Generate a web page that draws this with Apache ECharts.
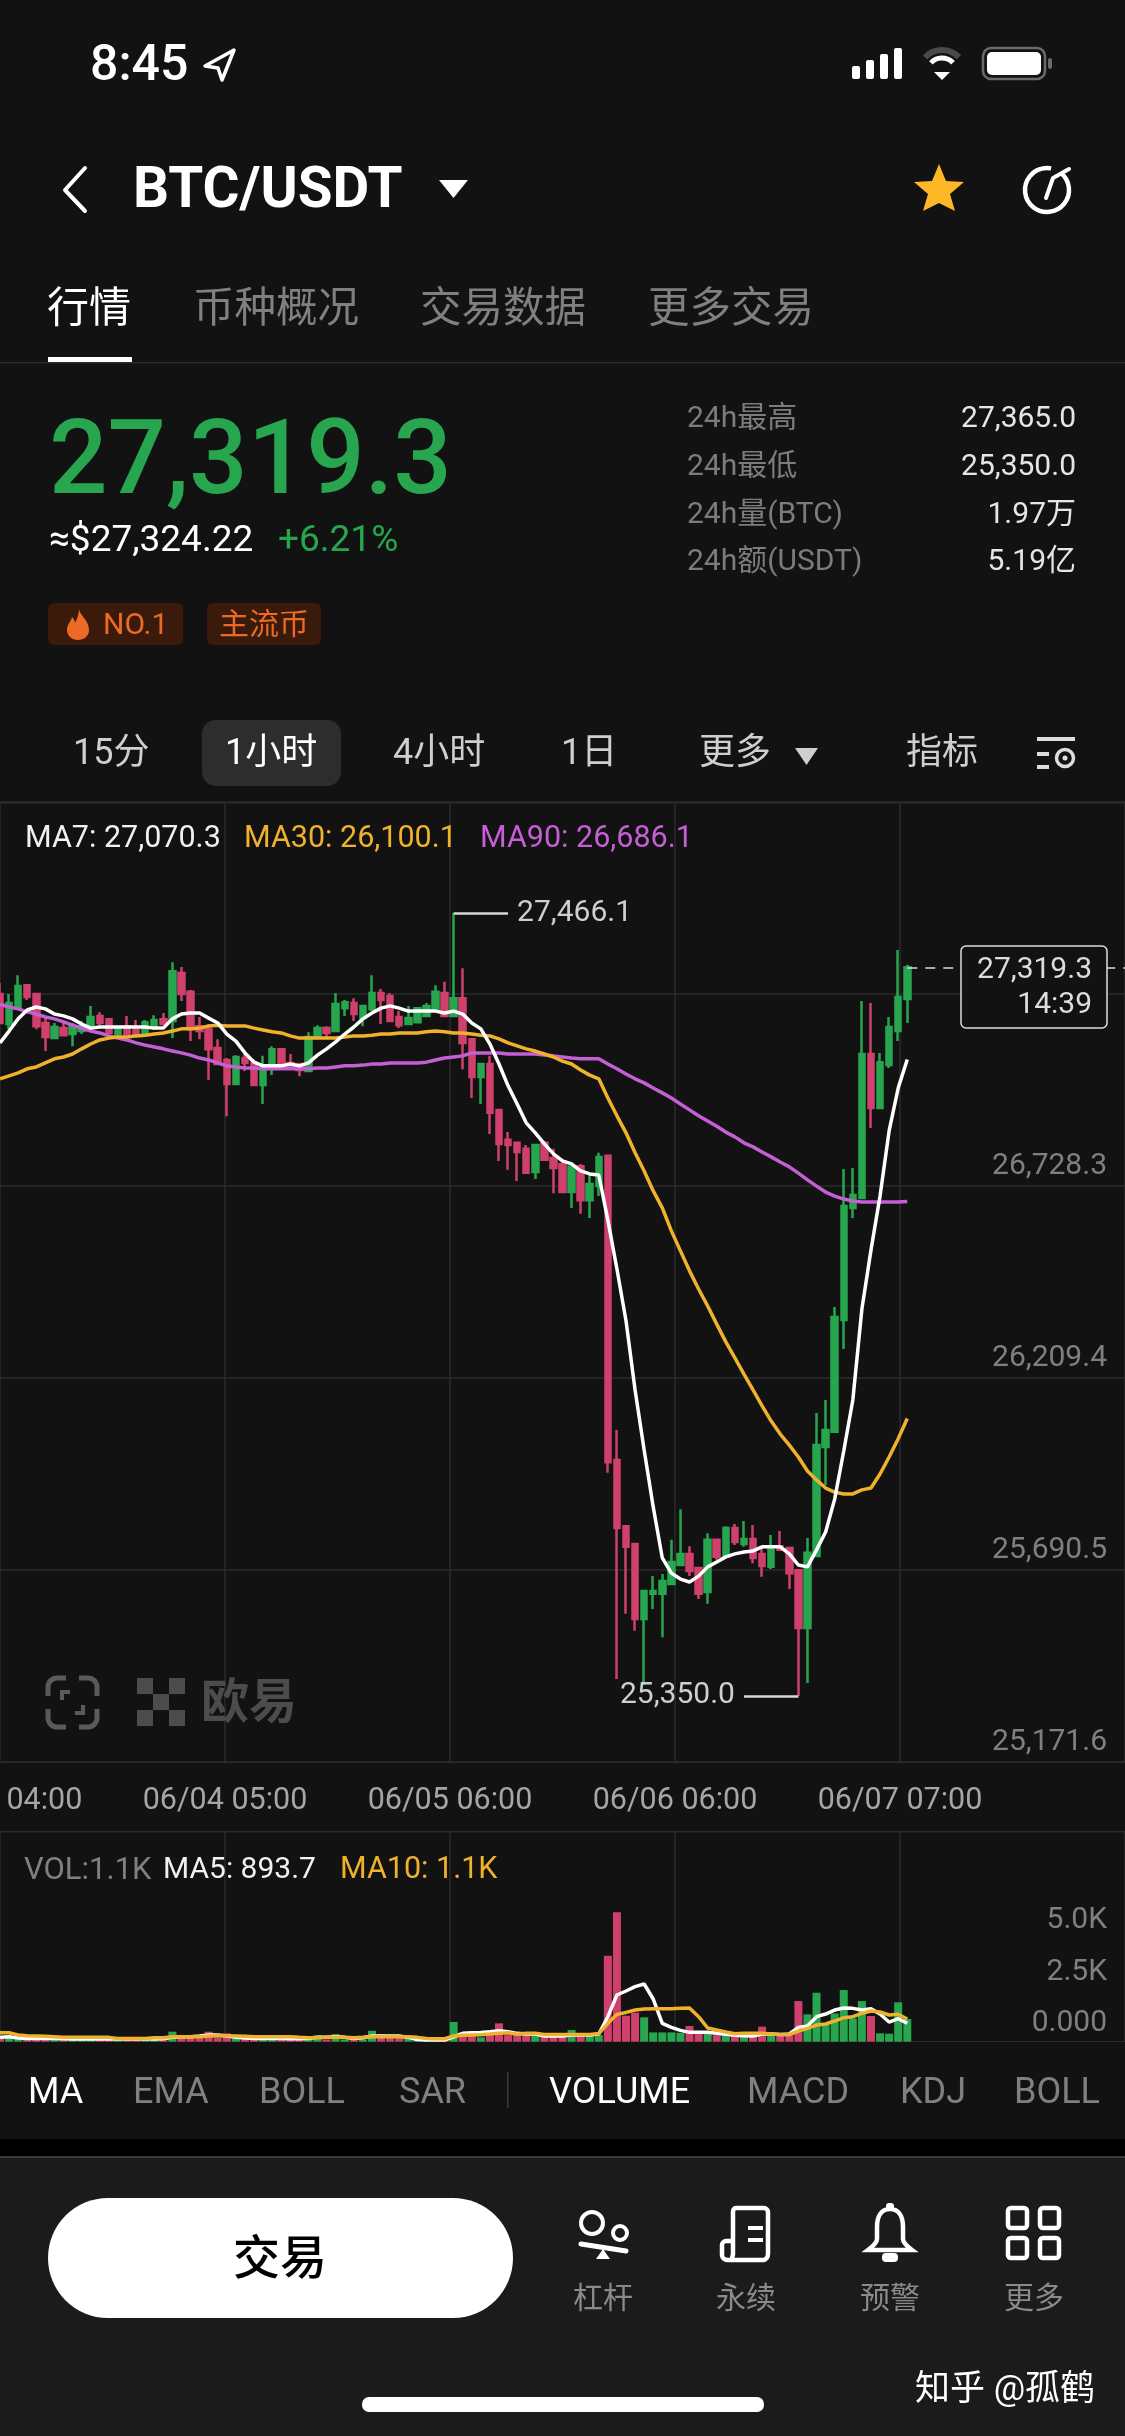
<!DOCTYPE html>
<html>
  <head>
    <meta charset="utf-8" />
    <title>BTC/USDT</title>
    <script src="https://cdn.jsdelivr.net/npm/echarts@6/dist/echarts.min.js"></script>
    <style>
      html, body { margin: 0; padding: 0; background: #121212; }
      #main { width: 1125px; height: 2436px; }
    </style>
  </head>
  <body>
    <div id="main"></div>
    <script type="text/javascript">
      // open, close, low, high for each hourly candle
      var candles = [
        [27247,27169,27169,27277],[27166,27223,27152,27247],[27209,27269,27207,27298],[27271,27239,27231,27274],[27247,27160,27152,27250],
        [27169,27131,27093,27182],[27128,27158,27126,27169],[27155,27136,27133,27169],[27139,27160,27106,27169],[27147,27160,27139,27174],
        [27158,27185,27158,27215],[27188,27169,27163,27198],[27179,27142,27139,27182],[27139,27155,27133,27158],[27160,27139,27139,27188],
        [27150,27139,27136,27177],[27139,27171,27139,27177],[27160,27177,27150,27190],[27179,27166,27166,27196],[27174,27309,27128,27333],
        [27304,27247,27228,27320],[27253,27152,27120,27258],[27160,27147,27125,27185],[27152,27098,27015,27166],[27101,27058,27058,27125],
        [27069,27004,26917,27074],[27004,27077,27004,27082],[27074,27061,27039,27085],[27061,27001,27001,27071],[27001,27053,26950,27080],
        [27047,27098,27028,27106],[27098,27058,27058,27098],[27061,27050,27042,27085],[27058,27042,27025,27061],[27039,27131,27036,27144],
        [27131,27155,27128,27163],[27155,27142,27131,27160],[27147,27220,27144,27250],[27209,27225,27188,27231],[27223,27193,27174,27236],
        [27182,27215,27160,27215],[27206,27250,27201,27298],[27250,27231,27166,27261],[27242,27174,27171,27250],[27185,27163,27155,27201],
        [27166,27182,27163,27215],[27171,27209,27171,27209],[27188,27215,27185,27223],[27206,27253,27204,27271],[27250,27188,27188,27280],
        [27188,27236,27188,27466.1],[27236,27115,27044,27317],[27125,27023,26966,27128],[27023,27058,26950,27061],[27058,26926,26869,27080],
        [26934,26842,26796,26934],[26853,26839,26772,26874],[26845,26820,26742,26845],[26829,26764,26764,26839],[26766,26839,26747,26842],
        [26845,26799,26796,26850],[26804,26777,26709,26829],[26788,26712,26709,26796],[26712,26780,26669,26791],[26782,26690,26653,26788],
        [26690,26734,26642,26761],[26728,26807,26701,26818],[26810,25982,25953,26813],[25988,25804,25396,26069],[25809,25753,25572,25809],
        [25761,25558,25526,25761],[25558,25634,25380,25634],[25626,25634,25585,25674],[25626,25661,25509,25680],[25653,25712,25653,25772],
        [25704,25734,25701,25855],[25734,25688,25674,25755],[25696,25626,25612,25696],[25631,25772,25599,25790],[25772,25726,25718,25772],
        [25726,25804,25723,25809],[25804,25766,25758,25815],[25761,25774,25753,25823],[25774,25723,25709,25812],[25734,25701,25672,25750],
        [25699,25750,25693,25785],[25755,25745,25742,25796],[25750,25682,25639,25750],[25690,25534,25350,25690],[25534,25737,25385,25777],
        [25728,26028,25728,26115],[26023,26069,25920,26150],[26064,26374,26064,26401],[26366,26674,26288,26774],[26669,26704,26642,26777],
        [26696,27085,26696,27228],[27085,26939,26885,27223],[26939,27063,26939,27088],[27055,27158,27047,27185],[27147,27239,27120,27366],
        [27234,27319.3,27169,27326]
      ];
      var ma7 = [
        27115,27147,27180,27204,27212,27207,27193,27188,27180,27166,
        27155,27158,27158,27158,27158,27158,27158,27155,27155,27180,
        27193,27196,27196,27182,27169,27139,27120,27088,27063,27053,
        27053,27053,27058,27053,27061,27082,27099,27118,27139,27158,
        27180,27196,27209,27215,27209,27201,27201,27201,27201,27196,
        27201,27193,27169,27153,27112,27058,26999,26950,26899,26872,
        26842,26815,26796,26788,26769,26761,26758,26636,26504,26364,
        26177,26015,25861,25723,25682,25666,25658,25674,25699,25712,
        25726,25734,25739,25742,25753,25753,25753,25734,25704,25699,
        25745,25793,25882,26012,26150,26396,26555,26701,26877,26993,
        27070.3
      ];
      var ma30 = [
        27018,27026,27034,27045,27050,27061,27072,27077,27085,27099,
        27112,27123,27128,27131,27131,27134,27136,27139,27142,27147,
        27153,27153,27155,27161,27163,27161,27161,27161,27155,27150,
        27145,27142,27134,27128,27128,27128,27128,27128,27131,27134,
        27134,27136,27139,27139,27142,27142,27142,27145,27147,27145,
        27142,27142,27139,27136,27134,27126,27115,27107,27099,27093,
        27085,27077,27066,27058,27042,27028,27018,26966,26918,26872,
        26818,26769,26715,26669,26607,26553,26499,26450,26404,26355,
        26307,26264,26220,26177,26134,26093,26058,26028,25996,25958,
        25934,25912,25901,25896,25896,25907,25912,25950,25996,26045,
        26100.1
      ];
      var ma90 = [
        27220,27212,27207,27199,27193,27185,27180,27172,27163,27155,
        27147,27142,27134,27128,27123,27115,27109,27104,27099,27093,
        27088,27082,27074,27069,27061,27053,27050,27047,27047,27045,
        27045,27045,27045,27045,27045,27047,27047,27050,27053,27053,
        27055,27058,27058,27061,27061,27061,27061,27063,27069,27074,
        27077,27080,27088,27088,27088,27088,27085,27085,27085,27085,
        27082,27080,27077,27074,27072,27072,27072,27058,27045,27031,
        27018,27007,26993,26980,26966,26950,26934,26918,26904,26890,
        26874,26861,26845,26834,26820,26807,26793,26780,26763,26745,
        26728,26712,26701,26693,26688,26685,26685,26685,26685,26685,
        26686.1
      ];
      var volumes = [
        210,240,240,160,160,160,160,160,110,110,
        110,110,110,110,210,110,110,110,110,485,
        275,210,240,485,210,405,160,160,160,130,
        130,110,110,110,110,320,110,370,110,110,
        110,530,355,210,210,210,110,110,110,110,
        955,435,320,210,320,890,320,320,390,320,
        275,320,240,565,320,370,320,4170,6280,1260,
        1410,1180,450,450,450,430,760,490,430,320,
        370,320,275,320,730,355,320,320,1970,1325,
        2375,810,1370,2505,1130,1970,1245,405,390,1910,
        1100
      ];
      var volMa5 = [
        210,240,175,160,150,150,150,140,130,130,
        130,130,130,130,130,130,130,130,140,210,
        240,240,275,325,325,275,210,175,160,160,
        160,160,145,145,160,210,210,240,210,160,
        190,275,275,275,275,210,110,80,80,80,
        240,405,435,450,485,530,485,405,372,372,
        275,275,275,323,323,323,372,1213,2264,2458,
        2668,2797,2070,890,695,550,453,453,453,405,
        355,307,291,275,372,372,355,372,695,760,
        1213,1342,1536,1633,1617,1536,1600,1342,954,1116,
        893.7
      ];
      var volMa10 = [
        435,435,325,290,275,260,240,210,210,210,
        210,210,210,160,160,160,160,190,190,240,
        240,240,240,275,290,290,275,260,240,240,
        240,240,240,210,190,190,210,210,210,190,
        210,240,240,240,240,240,210,160,145,145,
        275,310,325,340,370,405,435,360,405,405,
        355,355,355,355,355,355,390,890,1325,1420,
        1535,1585,1600,1600,1600,1617,1633,1213,663,566,
        470,390,405,405,405,372,355,340,517,647,
        808,857,1003,1164,1213,1374,1488,1439,1294,1326,
        1100
      ];
      var timeLabels = ['06/03 04:00', '06/04 05:00', '06/05 06:00', '06/06 06:00', '06/07 07:00', ''];
      var priceLabels = [25171.6, 25690.5, 26209.4, 26728.3];
      var volumeLabels = [0, 2500, 5000];
      var highMark = 27466.1;
      var lowMark = 25350.0;
      var lastPrice = 27319.3;

      var FONT = 'Roboto, "Noto Sans CJK SC", sans-serif';
      var GREEN = '#27a64f';
      var PINK = '#cf406c';
      var ORANGE = '#f0b22c';
      var PURPLE = '#c45fd4';
      var GRID = '#2b2b2b';
      var GREY = '#808080';
      var BG = '#121212';

      // hidden index axis, wider than the candles so the space on the right stays empty
      var slots = [];
      for (let i = 0; i < 125; i++) slots.push(String(i));

      function fmtPrice(v) {
        return v.toLocaleString('en-US', {minimumFractionDigits: 1, maximumFractionDigits: 1});
      }

      echarts.graphic.registerShape('flame', echarts.graphic.extendPath('M12 0C13 7 22 11 22 21C22 27 17 31 11 31C5 31 0 27 0 21C0 15 4 13 5 8C7 10 8 12 8 14C10 10 12 5 12 0Z'));
      echarts.graphic.registerShape('bell', echarts.graphic.extendPath('M24 4C33 4 37 12 37 22V34C37 38 42 42 46 45H2C6 42 11 38 11 34V22C11 12 15 4 24 4Z'));
      echarts.graphic.registerShape('receipt', echarts.graphic.extendPath('M11 33V4C11 2 12 0 14 0H42C44 0 46 2 46 4V46C46 49 44 52 41 52H6C3 52 0 50 0 47V37C0 35 2 33 4 33H11M11 52C9 50 11 48 11 46V33M41 52C43 52 46 50 46 46'));

      function txt(text, x, y, size, color, extra) {
        var style = Object.assign({
          text: text, fontSize: size, fontFamily: FONT, fill: color,
          align: 'left', verticalAlign: 'middle'
        }, extra || {});
        // middle of the line box sits a little above the middle of the glyphs
        return {type: 'text', x: x, y: y + size * 0.09, z: 50, silent: true, style: style};
      }
      function box(x, y, w, h, r, fill, z) {
        return {type: 'rect', z: z || 40, silent: true, shape: {x: x, y: y, width: w, height: h, r: r}, style: {fill: fill}};
      }
      function poly(points, fill, z) {
        return {type: 'polygon', z: z || 50, silent: true, shape: {points: points}, style: {fill: fill}};
      }
      function stroke(points, color, width) {
        return {type: 'polyline', z: 50, silent: true, shape: {points: points}, style: {stroke: color, lineWidth: width, fill: null, lineCap: 'round', lineJoin: 'round'}};
      }
      function ring(cx, cy, r, a0, a1, color, width) {
        return {type: 'arc', z: 50, silent: true, shape: {cx: cx, cy: cy, r: r, startAngle: a0, endAngle: a1}, style: {stroke: color, lineWidth: width, fill: null}};
      }

      var chrome = [];
      // status bar
      chrome.push(txt('8:45', 90, 63, 50, '#fff', {fontWeight: 500}));
      chrome.push({type: 'polygon', z: 50, silent: true, shape: {points: [[234, 50], [205, 66], [218, 68], [222, 80]]}, style: {fill: null, stroke: '#fff', lineWidth: 3.5, lineJoin: 'round'}});
      chrome.push(box(852, 66, 8, 13, 2, '#fff'), box(866, 60, 8, 19, 2, '#fff'), box(880, 54, 8, 25, 2, '#fff'), box(894, 48, 8, 31, 2, '#fff'));
      chrome.push(ring(942, 73, 23, -2.4, -0.75, '#4a4a4a', 6), ring(942, 73, 15, -2.4, -0.75, '#fff', 5), poly([[934, 72], [950, 72], [942, 80]], '#fff'));
      chrome.push({type: 'rect', z: 50, silent: true, shape: {x: 983, y: 48, width: 62, height: 31, r: 8}, style: {fill: null, stroke: '#6a6a6a', lineWidth: 2.5}});
      chrome.push(box(987, 52, 54, 23, 5, '#fff'), box(1048, 58, 4, 11, 2, '#6a6a6a'));
      // header
      chrome.push(stroke([[85, 168], [65, 190], [85, 211]], '#fff', 4));
      chrome.push(txt('BTC/USDT', 133, 188, 56.5, '#fff', {fontWeight: 700}));
      chrome.push(poly([[439, 180], [468, 180], [453.5, 198]], '#fff'));
      chrome.push(poly([[939, 164], [946, 181], [964, 182], [950, 194], [955, 211], [939, 203], [923, 211], [928, 194], [914, 182], [932, 181]], '#fcb827'));
      chrome.push(ring(1047, 190, 22, -0.9, 4.9, '#fff', 4.5), stroke([[1046, 198], [1053, 178], [1069, 169]], '#fff', 4));
      // tabs
      chrome.push(txt('行情', 47, 308, 42, '#fff'));
      chrome.push(txt('币种概况', 193, 308, 41.5, GREY), txt('交易数据', 420, 308, 41.5, GREY), txt('更多交易', 648, 308, 41.5, GREY));
      chrome.push(box(48, 357, 84, 5, 0, '#fff'), box(0, 362, 1125, 1.5, 0, GRID));
      // price block
      chrome.push(txt('27,319.3', 49, 458, 103, GREEN, {fontWeight: 500}));
      chrome.push(txt('≈$27,324.22', 49, 538, 37, '#fff'), txt('+6.21%', 278, 538, 37, GREEN));
      chrome.push(box(48, 603, 135, 42, 6, '#3a1a0a'), box(207, 603, 114, 42, 6, '#3a1a0a'));
      chrome.push({type: 'flame', x: 67, y: 609, z: 50, silent: true, style: {fill: '#ec6a25'}});
      chrome.push(txt('NO.1', 103, 624, 30, '#ec6a25'), txt('主流币', 219, 624, 30, '#ec6a25'));
      [['24h最高', '27,365.0', 417], ['24h最低', '25,350.0', 465], ['24h量(BTC)', '1.97万', 513], ['24h额(USDT)', '5.19亿', 560]].forEach(function (row) {
        chrome.push(txt(row[0], 687, row[2], 30, '#7c7c7c'));
        chrome.push(txt(row[1], 1076, row[2], 30, '#e6e6e6', {align: 'right'}));
      });
      // period tabs
      chrome.push(box(202, 720, 139, 66, 14, '#2d2d2d'));
      chrome.push(txt('15分', 73, 752, 36, '#cfcfcf'), txt('1小时', 225, 752, 36, '#fff'), txt('4小时', 393, 752, 36, '#cfcfcf'), txt('1日', 561, 752, 36, '#cfcfcf'), txt('更多', 699, 752, 36, '#cfcfcf'), txt('指标', 906, 752, 36, '#cfcfcf'));
      chrome.push(poly([[795, 748], [818, 748], [806.5, 765]], '#cfcfcf'));
      chrome.push(box(1037, 737, 38, 4, 0, '#ddd'), box(1037, 752, 12, 4, 0, '#ddd'), box(1037, 765, 12, 4, 0, '#ddd'));
      chrome.push({type: 'circle', z: 50, silent: true, shape: {cx: 1065, cy: 758, r: 8.5}, style: {fill: null, stroke: '#ddd', lineWidth: 3.5}});
      chrome.push({type: 'circle', z: 50, silent: true, shape: {cx: 1065, cy: 758, r: 2.5}, style: {fill: '#ddd'}});
      // chart header lines and legends
      chrome.push(box(0, 802, 1125, 1.5, 0, GRID, 1), box(0, 1831, 1125, 1.5, 0, GRID, 1));
      chrome.push(txt('MA7: 27,070.3', 25, 837, 30.5, '#f2f2f2'), txt('MA30: 26,100.1', 244, 837, 30.5, ORANGE), txt('MA90: 26,686.1', 480, 837, 30.5, PURPLE));
      chrome.push(txt('VOL:1.1K', 24, 1868, 31, GREY), txt('MA5: 893.7', 163, 1868, 30, '#f2f2f2'), txt('MA10: 1.1K', 340, 1868, 30.5, ORANGE));
      // price box on the right
      chrome.push({type: 'rect', z: 60, silent: true, shape: {x: 961, y: 946, width: 146, height: 82, r: 5}, style: {fill: BG, stroke: '#ddd', lineWidth: 1.5}});
      chrome.push(Object.assign(txt('27,319.3', 1092, 968, 30, '#ddd', {align: 'right'}), {z: 61}), Object.assign(txt('14:39', 1092, 1003, 30, '#ddd', {align: 'right'}), {z: 61}));
      // watermark
      chrome.push({type: 'rect', z: 5, silent: true, shape: {x: 48, y: 1678, width: 49, height: 49, r: 9}, style: {fill: null, stroke: '#5a5a5a', lineWidth: 5}});
      chrome.push(box(40, 1696, 65, 13, 0, BG, 6), box(66, 1670, 13, 65, 0, BG, 6));
      chrome.push(box(60, 1690, 4, 10, 0, '#5a5a5a', 7), box(60, 1690, 10, 4, 0, '#5a5a5a', 7), box(81, 1705, 4, 10, 0, '#5a5a5a', 7), box(75, 1711, 10, 4, 0, '#5a5a5a', 7));
      [[137, 1678], [169, 1678], [153, 1694], [137, 1710], [169, 1710]].forEach(function (p) {
        chrome.push(box(p[0], p[1], 16, 16, 0, '#4c4c4c', 5));
      });
      chrome.push(Object.assign(txt('欧易', 201, 1702, 48, '#4c4c4c', {fontWeight: 700}), {z: 5}));
      // indicator row
      [['MA', 28, '#fff'], ['EMA', 133, GREY], ['BOLL', 259, GREY], ['SAR', 399, GREY], ['VOLUME', 549, '#fff'], ['MACD', 747, GREY], ['KDJ', 900, GREY], ['BOLL', 1014, GREY]].forEach(function (t) {
        chrome.push(txt(t[0], t[1], 2091, 36, t[2]));
      });
      chrome.push(box(507, 2072, 1.5, 36, 0, '#3a3a3a'));
      // bottom bar
      chrome.push(box(0, 2139, 1125, 17, 0, '#000'), box(0, 2156, 1125, 2, 0, '#3a3a3a'), box(0, 2158, 1125, 278, 0, '#1b1b1b'));
      chrome.push(box(48, 2198, 465, 120, 60, '#fff', 41));
      chrome.push(txt('交易', 280, 2258, 47, '#000', {align: 'center', fontWeight: 500}));
      chrome.push({type: 'circle', z: 50, silent: true, shape: {cx: 592, cy: 2223, r: 11}, style: {fill: null, stroke: '#fff', lineWidth: 4}});
      chrome.push({type: 'circle', z: 50, silent: true, shape: {cx: 620, cy: 2233, r: 7}, style: {fill: null, stroke: '#fff', lineWidth: 4}});
      chrome.push(stroke([[581, 2244], [626, 2251]], '#fff', 5), poly([[596, 2259], [610, 2259], [603, 2249]], '#fff'));
      chrome.push({type: 'receipt', x: 722, y: 2208, z: 50, silent: true, style: {fill: null, stroke: '#fff', lineWidth: 4.5}});
      chrome.push(box(748, 2226, 15, 4, 0, '#fff', 51), box(748, 2238, 15, 4, 0, '#fff', 51));
      chrome.push({type: 'bell', x: 866, y: 2205, z: 50, silent: true, style: {fill: null, stroke: '#fff', lineWidth: 4.5}});
      chrome.push(box(886, 2203, 8, 7, 3, '#fff'), box(882, 2253, 16, 9, 4, '#fff'));
      [[1008, 2208], [1040, 2208], [1008, 2238], [1040, 2238]].forEach(function (p) {
        chrome.push({type: 'rect', z: 50, silent: true, shape: {x: p[0], y: p[1], width: 19, height: 20, r: 3}, style: {fill: null, stroke: '#fff', lineWidth: 4.5}});
      });
      [['杠杆', 603], ['永续', 746], ['预警', 890], ['更多', 1034]].forEach(function (t) {
        chrome.push(txt(t[0], t[1], 2298, 30, '#8a8a8a', {align: 'center'}));
      });
      chrome.push(txt('知乎 @孤鹤', 915, 2388, 35, '#fff'));
      chrome.push(box(362, 2397, 402, 15, 7, '#fff'));

      var myChart = echarts.init(document.getElementById('main'), null, {width: 1125, height: 2436});
      var option = {
        animation: false,
        backgroundColor: BG,
        graphic: {elements: chrome},
        grid: [
          // the first date label is cut by the screen edge, so the grid must not shrink to fit it
          {left: 0, width: 1125, top: 802, height: 960, outerBoundsMode: 'none'},
          {left: 0, width: 1125, top: 1832, height: 209.7, outerBoundsMode: 'none'}
        ],
        xAxis: [
          {
            type: 'category', gridIndex: 0, boundaryGap: false, data: slots,
            axisLine: {show: false}, axisTick: {show: false}, axisLabel: {show: false}, splitLine: {show: false}
          },
          {
            // date labels and vertical rules of the price panel
            type: 'category', gridIndex: 0, position: 'bottom', boundaryGap: false, data: timeLabels,
            axisLine: {lineStyle: {color: GRID}}, axisTick: {show: false},
            axisLabel: {interval: 0, color: '#a6a6a6', fontSize: 30.5, fontFamily: FONT, margin: 24, showMinLabel: true, hideOverlap: false},
            splitLine: {show: true, interval: 0, lineStyle: {color: GRID, width: 1.5}}
          },
          {
            type: 'category', gridIndex: 1, boundaryGap: false, data: slots,
            axisLine: {lineStyle: {color: GRID}}, axisTick: {show: false}, axisLabel: {show: false}, splitLine: {show: false}
          },
          {
            type: 'category', gridIndex: 1, position: 'bottom', boundaryGap: false, data: timeLabels,
            axisLine: {show: false}, axisTick: {show: false}, axisLabel: {show: false},
            splitLine: {show: true, interval: 0, lineStyle: {color: GRID, width: 1.5}}
          }
        ],
        yAxis: [
          {
            type: 'value', gridIndex: 0, position: 'right', min: 25171.6, max: 27766.1, interval: 518.9,
            axisLine: {show: false}, axisTick: {show: false},
            splitLine: {show: true, lineStyle: {color: GRID, width: 1.5}},
            axisLabel: {
              inside: true, margin: 18, color: GREY, fontSize: 30, fontFamily: FONT,
              verticalAlign: 'bottom', padding: [0, 0, 5, 0],
              showMinLabel: true, customValues: priceLabels, formatter: fmtPrice
            }
          },
          {
            type: 'value', gridIndex: 1, position: 'right', min: 0, max: 10170,
            axisLine: {show: false}, axisTick: {show: false}, splitLine: {show: false},
            axisLabel: {
              inside: true, margin: 18, color: GREY, fontSize: 30, fontFamily: FONT,
              verticalAlign: 'bottom', padding: [0, 0, 3, 0],
              showMinLabel: true, customValues: volumeLabels,
              formatter: function (v) { return v === 0 ? '0.000' : (v / 1000).toFixed(1) + 'K'; }
            }
          }
        ],
        series: [
          {
            name: 'BTC/USDT', type: 'candlestick', xAxisIndex: 0, yAxisIndex: 0, data: candles,
            barWidth: 6, z: 3,
            itemStyle: {color: GREEN, color0: PINK, borderColor: GREEN, borderColor0: PINK, borderWidth: 2.5},
            markLine: {
              silent: true, symbol: 'none', animation: false, precision: 1,
              lineStyle: {color: '#d8d8d8', width: 2.5, type: 'solid'},
              data: [
                [{coord: [50, highMark], label: {show: true, position: 'end', formatter: fmtPrice(highMark), color: '#cfcfcf', fontSize: 30, fontFamily: FONT, distance: 9}}, {coord: [56, highMark]}],
                [{coord: [88, lowMark], label: {show: true, position: 'end', formatter: fmtPrice(lowMark), color: '#cfcfcf', fontSize: 30, fontFamily: FONT, distance: 9}}, {coord: [82, lowMark]}],
                [{coord: [100, lastPrice], lineStyle: {type: [10, 8], width: 1.5, color: '#dcdcdc'}, label: {show: false}}, {coord: [124, lastPrice]}]
              ]
            }
          },
          {name: 'MA90', type: 'line', xAxisIndex: 0, yAxisIndex: 0, data: ma90, symbol: 'none', z: 4, lineStyle: {color: PURPLE, width: 3.5}},
          {name: 'MA30', type: 'line', xAxisIndex: 0, yAxisIndex: 0, data: ma30, symbol: 'none', z: 4, lineStyle: {color: ORANGE, width: 3.5}},
          {name: 'MA7', type: 'line', xAxisIndex: 0, yAxisIndex: 0, data: ma7, symbol: 'none', z: 5, lineStyle: {color: '#fff', width: 3.5}},
          {
            name: 'VOL', type: 'bar', xAxisIndex: 2, yAxisIndex: 1, data: volumes, barWidth: 8, z: 3,
            itemStyle: {
              color: function (p) { return candles[p.dataIndex][1] >= candles[p.dataIndex][0] ? GREEN : PINK; }
            }
          },
          {name: 'MA5', type: 'line', xAxisIndex: 2, yAxisIndex: 1, data: volMa5, symbol: 'none', z: 4, lineStyle: {color: '#fff', width: 3.5}},
          {name: 'MA10', type: 'line', xAxisIndex: 2, yAxisIndex: 1, data: volMa10, symbol: 'none', z: 5, lineStyle: {color: ORANGE, width: 3.5}}
        ]
      };
      myChart.setOption(option);
    </script>
  </body>
</html>
